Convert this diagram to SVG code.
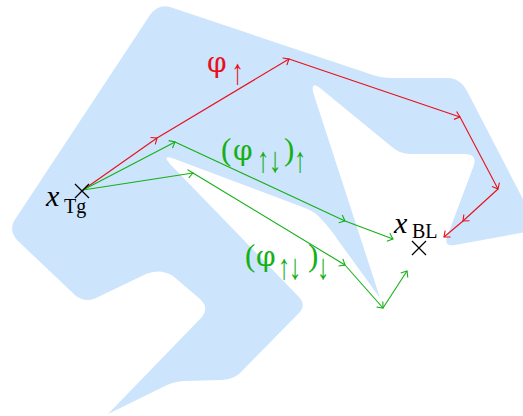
<svg xmlns="http://www.w3.org/2000/svg" width="523" height="416" viewBox="0 0 523 416">
<style>
.region{fill:#cce4fc;stroke:none}
.r{stroke:#e8101a;stroke-width:1.1;fill:none;marker-end:url(#ar)}
.g{stroke:#14b014;stroke-width:1.1;fill:none;marker-end:url(#ag)}
.cross{stroke:#000;stroke-width:1.3}
.m{font-family:"Liberation Serif","DejaVu Serif",serif}
.phi{font-family:"DejaVu Serif","Liberation Serif",serif;font-size:28px}
.it{font-style:italic}
.arr{font-family:"Liberation Serif","DejaVu Serif",serif;font-size:25px;text-anchor:middle}
.tr{fill:#e8101a}
.tg{fill:#14b014}
</style>
<defs>
<marker id="ar" markerUnits="userSpaceOnUse" markerWidth="14" markerHeight="14" viewBox="-7 -7 14 14" refX="0" refY="0" orient="auto" overflow="visible">
<path d="M -5,-4.2 Q -1.2,-1 0,0 Q -1.2,1 -5,4.2" fill="none" stroke="#e8101a" stroke-width="1.1"/>
</marker>
<marker id="ag" markerUnits="userSpaceOnUse" markerWidth="14" markerHeight="14" viewBox="-7 -7 14 14" refX="0" refY="0" orient="auto" overflow="visible">
<path d="M -5,-4.2 Q -1.2,-1 0,0 Q -1.2,1 -5,4.2" fill="none" stroke="#14b014" stroke-width="1.1"/>
</marker>
</defs>
<path id="domain" class="region" d="M 150,15 Q 158,4 170,7 L 373,75 Q 381,78 392,78 L 447,78 Q 460,78 467,91 L 526,205 L 526,232 L 455,245 Q 444,247 447,237 L 474,165 Q 477,154 465,154 L 410,154 Q 400,154 392,147 L 320,88 Q 311,81 313,92 L 380,298 L 340,243 Q 330,228 322,220 Q 316,212 305,208 L 172,158 Q 162,155 170,164 L 298,296 Q 307,305 299,313 L 243,370 Q 236,379 222,380 L 183,381 Q 172,382 163,387 L 108,414 L 201,318 Q 210,308 200,299 L 173,276 Q 160,268 146,274 L 96,298 Q 86,303 76,296 L 17,240 Q 9,231 14,221 Z"/>
<g id="connectors">
<line class="r" x1="83" y1="190" x2="157" y2="138"/>
<line class="r" x1="157" y1="138" x2="289" y2="59"/>
<line class="r" x1="289" y1="59" x2="460" y2="117"/>
<line class="r" x1="460" y1="117" x2="498" y2="189"/>
<line class="r" x1="498" y1="189" x2="463" y2="221"/>
<line class="r" x1="463" y1="221" x2="444" y2="237"/>
<line class="g" x1="83" y1="190" x2="175" y2="142"/>
<line class="g" x1="175" y1="142" x2="345" y2="221"/>
<line class="g" x1="345" y1="221" x2="393" y2="239"/>
<line class="g" x1="83" y1="190" x2="193" y2="173"/>
<line class="g" x1="193" y1="173" x2="345" y2="265"/>
<line class="g" x1="345" y1="265" x2="383" y2="308"/>
<line class="g" x1="383" y1="308" x2="407" y2="271"/>
</g>
<g id="xTg">
<path class="cross" d="M 75,184 L 89,198 M 89,184 L 75,198"/>
<text class="m it" x="46" y="206" font-size="30">x</text>
<text class="m" x="64" y="213" font-size="20">Tg</text>
</g>
<g id="xBL">
<path class="cross" d="M 412,241 L 426,255 M 426,241 L 412,255"/>
<text class="m it" x="394" y="233" font-size="30">x</text>
<text class="m" x="412" y="238" font-size="20">BL</text>
</g>
<g id="label-up">
<text class="phi tr" x="207" y="72">φ</text>
<text class="arr tr" transform="translate(237.5,84) scale(1,1.45)">↑</text>
</g>
<g id="label-updown-up">
<text class="m tg" x="221" y="160" font-size="31">(</text>
<text class="phi tg" x="233" y="160">φ</text>
<text class="arr tg" transform="translate(263,172) scale(1,1.45)">↑</text>
<text class="arr tg" transform="translate(275,172) scale(1,1.45)">↓</text>
<text class="m tg" x="284" y="160" font-size="31">)</text>
<text class="arr tg" transform="translate(300,172) scale(1,1.45)">↑</text>
</g>
<g id="label-updown-down">
<text class="m tg" x="245" y="266" font-size="31">(</text>
<text class="phi tg" x="256" y="266">φ</text>
<text class="arr tg" transform="translate(284,279) scale(1,1.45)">↑</text>
<text class="arr tg" transform="translate(295,279) scale(1,1.45)">↓</text>
<text class="m tg" x="308" y="266" font-size="31">)</text>
<text class="arr tg" transform="translate(323,279) scale(1,1.45)">↓</text>
</g>
</svg>
